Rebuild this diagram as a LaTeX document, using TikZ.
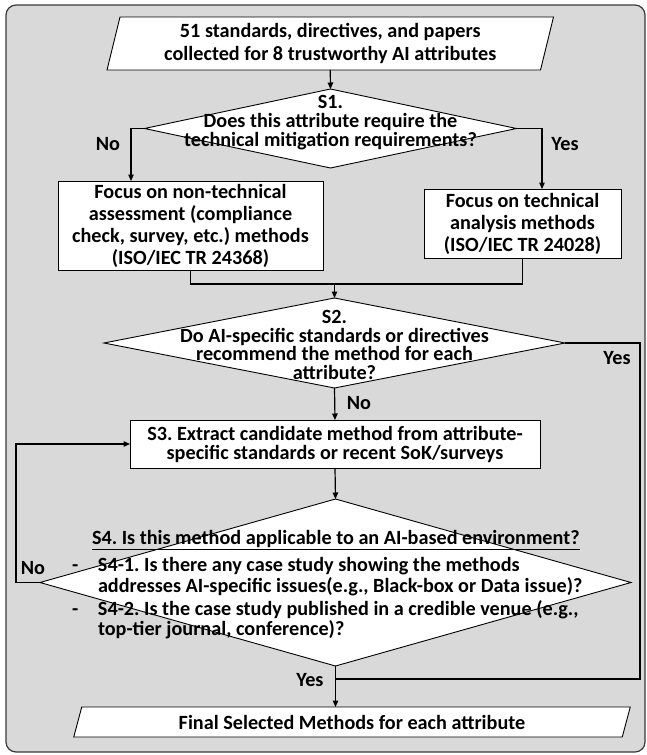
\documentclass[tikz,border=0pt]{standalone}
\usepackage{fontspec}
\setmainfont{Carlito}
\frenchspacing
\usetikzlibrary{arrows.meta,shapes.geometric,calc}
\pgfdeclarelayer{background}
\pgfsetlayers{background,main}
\definecolor{gbg}{HTML}{D9D9D9}
\definecolor{frm}{HTML}{3A3A3A}
\newcommand\fsz{20.2}
\begin{document}
\begin{tikzpicture}[x=1pt,y=-1pt,
  txt/.style={font=\fontsize{\fsz}{22}\selectfont\bfseries, align=center, inner sep=0pt, outer sep=0pt, text=black},
  box/.style={txt, draw=black, line width=0.9pt, fill=white},
  dec/.style={diamond, draw=black, line width=0.9pt, fill=white, inner sep=0pt, outer sep=0pt},
  shp/.style={draw=black, line width=0.9pt, fill=white},
  conn/.style={line width=1.2pt, draw=black},
  arr/.style={conn, -{Triangle[length=6.5pt,width=5.5pt]}},
  lbl/.style={font=\fontsize{\fsz}{19}\selectfont\bfseries, inner sep=0pt, outer sep=0pt, text=black}
]
\useasboundingbox (0,0) rectangle (647,755);
\begin{pgfonlayer}{background}
\draw[draw=frm, line width=1.2pt, fill=gbg, rounded corners=10pt] (6,5) rectangle (645,752);
\end{pgfonlayer}

% nodes
\node[txt, font=\fontsize{\fsz}{23}\selectfont\bfseries, minimum width=433.5, minimum height=53] (p1) at (330.25,43.5)
  {51 standards, directives, and papers\\collected for 8 trustworthy AI attributes};
\node[dec, minimum width=372, minimum height=79] (s1) at (330.5,128.5) {};
\node[txt, font=\fontsize{\fsz}{19}\selectfont\bfseries] (s1t) at (330.5,123)
  {S1.\\Does this attribute require the\\technical mitigation requirements?};
\node[box, minimum width=265, minimum height=89] (L) at (190.5,225.5)
  {Focus on non-technical\\assessment (compliance\\check, survey, etc.) methods\\(ISO/IEC TR 24368)};
\node[box, minimum width=197, minimum height=69] (R) at (522.5,223.5)
  {Focus on technical\\analysis methods\\(ISO/IEC TR 24028)};
\coordinate (m) at (334.5,284);
\node[dec, minimum width=461, minimum height=90] (s2) at (334.5,343) {};
\node[txt, font=\fontsize{\fsz}{18.6}\selectfont\bfseries] (s2t) at (334.5,345)
  {S2.\\Do AI-specific standards or directives\\recommend the method for each\\attribute?};
\node[box, font=\fontsize{\fsz}{19}\selectfont\bfseries, minimum width=410, minimum height=48] (s3) at (335,444)
  {S3. Extract candidate method from attribute-\\specific standards or recent SoK/surveys};
\node[dec, minimum width=591, minimum height=167] (s4) at (335.5,582.5) {};
\node[lbl, anchor=west] (s4t) at (72,586)
  {\begin{tabular}{@{}p{26pt}@{}l@{}}
   \multicolumn{2}{@{}l@{}}{\hspace{20pt}\underline{S4. Is this method applicable to an AI-based environment?}}\\[7pt]
   - & S4-1. Is there any case study showing the methods\\
     & addresses AI-specific issues(e.g., Black-box or Data issue)?\\[2pt]
   - & S4-2. Is the case study published in a credible venue (e.g.,\\
     & top-tier journal, conference)?
   \end{tabular}};
\node[txt, minimum width=548.5, minimum height=30] (F) at (352,722)
  {Final Selected Methods for each attribute};
\coordinate (yj) at (335,679);

\begin{pgfonlayer}{background}
\draw[shp] ($(p1.north west)+(6.5,0)$) -- ($(p1.north east)+(6.5,0)$) -- ($(p1.south east)+(-6.5,0)$) -- ($(p1.south west)+(-6.5,0)$) -- cycle;
\draw[shp] ($(F.north west)+(4,0)$) -- ($(F.north east)+(4,0)$) -- ($(F.south east)+(-4,0)$) -- ($(F.south west)+(-4,0)$) -- cycle;
\end{pgfonlayer}

% connectors
\draw[arr] (p1.south) -- (s1.north);
\draw[arr] (s1.west) -| ($(L.north west)+(73,0)$);
\draw[arr] (s1.east) -| ($(R.north west)+(118,0)$);
\draw[conn] (L.south) |- (m) -| (R.south);
\draw[arr] (m) -- (s2.north);
\draw[arr] (s2.south) -- (s3.north);
\draw[conn] (s2.east) -- ++(75,0) |- (yj);
\draw[arr] (s3.south) -- (s4.north);
\draw[arr] (s4.south) -- (s4.south |- F.north);
\draw[arr] (s4.west) -- ++(-24,0) |- (s3.west);

% labels
\node[lbl] (no1) at (108,144) {No};
\node[lbl] (yes1) at (565,144) {Yes};
\node[lbl] (yes2) at (617,358) {Yes};
\node[lbl] (no2) at (359,403) {No};
\node[lbl] (no3) at (33,568) {No};
\node[lbl] (yes3) at (310,680) {Yes};
\end{tikzpicture}
\end{document}
